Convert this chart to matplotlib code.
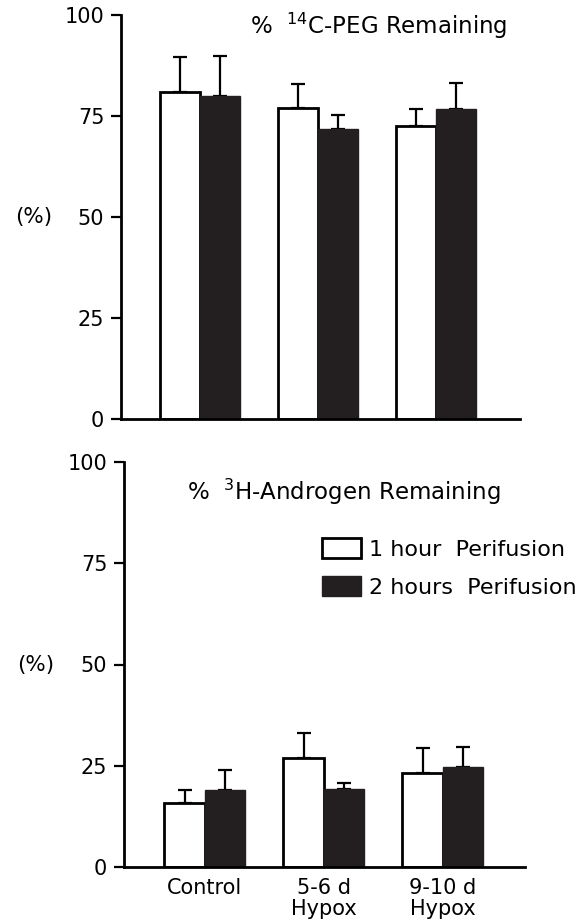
import matplotlib
matplotlib.use("Agg")
import matplotlib.pyplot as plt
from matplotlib.patches import Patch
import numpy as np

plt.rcParams['font.family'] = ['DejaVu Sans']

categories = ["Control", "5-6 d\nHypox", "9-10 d\nHypox"]
peg_1h = [81, 77, 72.5]
peg_1h_err = [8.5, 6, 4.2]
peg_2h = [80, 71.7, 76.7]
peg_2h_err = [9.8, 3.5, 6.4]
andro_1h = [15.8, 26.9, 23.2]
andro_1h_err = [3.2, 6.1, 6.2]
andro_2h = [19, 19.3, 24.7]
andro_2h_err = [5, 1.4, 4.9]
yticks = [0, 25, 50, 75, 100]
legend_labels = ["1 hour  Perifusion", "2 hours  Perifusion"]

W, H = 587, 923
fig = plt.figure(figsize=(W / 100, H / 100), dpi=100)

def px_axes(left, right, y0, y100):
    return fig.add_axes([left / W, 1 - y0 / H, (right - left) / W, (y0 - y100) / H])

ax1 = px_axes(121, 520, 419.5, 15)
ax2 = px_axes(124, 525, 867, 462)

BLACK = "#231f20"

def draw(ax, v1, e1, v2, e2, xlim, show_x, ylab_x):
    x = np.arange(len(categories))
    w = 0.34
    ax.bar(x - w / 2, v1, w, color="white", edgecolor="black", linewidth=2, zorder=2)
    ax.bar(x + w / 2, v2, w, color=BLACK, edgecolor=BLACK, linewidth=1, zorder=2)
    ax.errorbar(x - w / 2, v1, yerr=[np.zeros(len(v1)), e1], fmt="none", ecolor="black",
                elinewidth=1.6, capsize=5, capthick=1.6, zorder=1)
    ax.errorbar(x + w / 2, v2, yerr=[np.zeros(len(v2)), e2], fmt="none", ecolor="black",
                elinewidth=1.6, capsize=5, capthick=1.6, zorder=1)
    ax.set_xlim(*xlim)
    ax.set_ylim(0, 100)
    ax.set_yticks(yticks)
    ax.set_yticklabels([str(t) for t in yticks], fontsize=15)
    for s in ["top", "right"]:
        ax.spines[s].set_visible(False)
    for s in ["left", "bottom"]:
        ax.spines[s].set_linewidth(2)
    ax.tick_params(axis="y", direction="out", length=7, width=1.6, pad=5)
    if show_x:
        ax.set_xticks(x)
        ax.set_xticklabels(categories, fontsize=15, linespacing=1.05)
        ax.tick_params(axis="x", length=0, pad=8)
    else:
        ax.set_xticks([])
    ax.text(ylab_x, 0.5, "(%)", transform=ax.transAxes, fontsize=15.5, ha="center", va="center")

draw(ax1, peg_1h, peg_1h_err, peg_2h, peg_2h_err, (-0.67, 2.71), False, -0.22)
draw(ax2, andro_1h, andro_1h_err, andro_2h, andro_2h_err, (-0.68, 2.69), True, -0.22)

fig.text(250 / W, 1 - 26 / H, r"%  $^{14}$C-PEG Remaining", fontsize=16.5, ha="left", va="center")
fig.text(187 / W, 1 - 492 / H, r"%  $^{3}$H-Androgen Remaining", fontsize=16.5, ha="left", va="center")

handles = [Patch(facecolor="white", edgecolor="black", linewidth=2),
           Patch(facecolor=BLACK, edgecolor=BLACK)]
fig.legend(handles, legend_labels, loc="upper left", bbox_to_anchor=(322 / W, 1 - 538 / H),
           frameon=False, fontsize=16, handlelength=1.75, handleheight=1.0,
           handletextpad=0.35, labelspacing=0.75, borderpad=0, borderaxespad=0)

fig.savefig("out.png", dpi=100)
